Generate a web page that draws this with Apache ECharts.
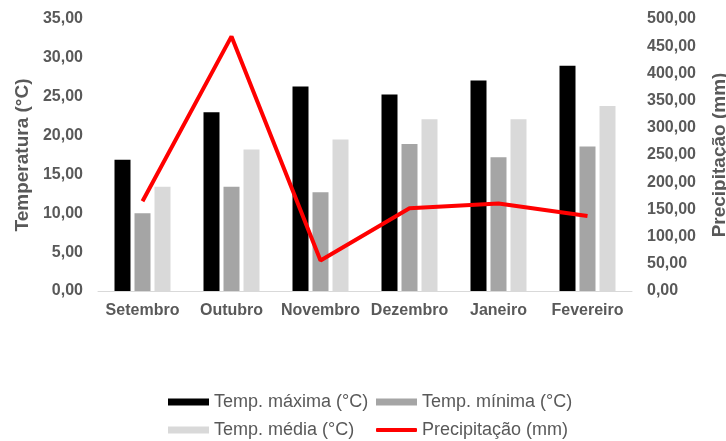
<!DOCTYPE html>
<html>
<head>
<meta charset="utf-8">
<script src="https://cdn.jsdelivr.net/npm/echarts@6/dist/echarts.min.js"></script>
<style>html,body{margin:0;padding:0;background:#fff}#c{width:726px;height:441px}</style>
</head>
<body>
<div id="c"></div>
<script>
const categories = ['Setembro', 'Outubro', 'Novembro', 'Dezembro', 'Janeiro', 'Fevereiro'];
const tempMax = [16.9, 23.0, 26.3, 25.3, 27.1, 29.0];
const tempMin = [10.0, 13.4, 12.7, 18.9, 17.2, 18.6];
const tempMed = [13.4, 18.2, 19.5, 22.1, 22.1, 23.8];
const precip = [165, 468, 56, 152, 161, 138];
const seriesNames = ['Temp. máxima (°C)', 'Temp. mínima (°C)', 'Temp. média (°C)', 'Precipitação (mm)'];

const fmt = v => v.toFixed(2).replace('.', ',');
const txt = '#595959';
const ff = 'Liberation Sans, Arial, sans-serif';
const chart = echarts.init(document.getElementById('c'));
const legendBase = {
  orient: 'horizontal', itemWidth: 41, itemHeight: 7, itemGap: 0, padding: 0,
  textStyle: { color: txt, fontSize: 18, fontFamily: ff, lineHeight: 20 },
  icon: 'rect', selectedMode: false
};
chart.setOption({
  animation: false,
  grid: { left: 98, right: 94, top: 19, bottom: 150, outerBoundsMode: 'none', containLabel: false },
  legend: [
    Object.assign({}, legendBase, { data: [seriesNames[0]], left: 168, top: 392 }),
    Object.assign({}, legendBase, { data: [seriesNames[1]], left: 376, top: 392 }),
    Object.assign({}, legendBase, { data: [seriesNames[2]], left: 168, top: 420 }),
    Object.assign({}, legendBase, { data: [{ name: seriesNames[3], icon: 'roundRect' }], left: 376, top: 420, itemHeight: 4 })
  ],
  xAxis: {
    type: 'category', data: categories,
    axisLine: { lineStyle: { color: '#d9d9d9', width: 1 } },
    axisTick: { show: false },
    axisLabel: { color: txt, fontSize: 16, fontWeight: 'bold', fontFamily: ff, margin: 12, interval: 0 }
  },
  yAxis: [
    {
      type: 'value', min: 0, max: 35, interval: 5,
      name: 'Temperatura (°C)', nameLocation: 'middle', nameGap: 64, nameRotate: 90,
      nameTextStyle: { color: txt, fontSize: 19, fontWeight: 'bold', fontFamily: ff },
      axisLine: { show: false }, axisTick: { show: false }, splitLine: { show: false },
      axisLabel: { color: txt, fontSize: 16, fontWeight: 'bold', fontFamily: ff, margin: 15, formatter: fmt }
    },
    {
      type: 'value', min: 0, max: 500, interval: 50, position: 'right',
      name: 'Precipitação (mm)', nameLocation: 'middle', nameGap: 78, nameRotate: 90,
      nameTextStyle: { color: txt, fontSize: 19, fontWeight: 'bold', fontFamily: ff },
      axisLine: { show: false }, axisTick: { show: false }, splitLine: { show: false },
      axisLabel: { color: txt, fontSize: 16, fontWeight: 'bold', fontFamily: ff, margin: 15, formatter: fmt }
    }
  ],
  series: [
    { name: seriesNames[0], type: 'bar', data: tempMax, barWidth: 16, barGap: '25%', itemStyle: { color: '#000000' } },
    { name: seriesNames[1], type: 'bar', data: tempMin, barWidth: 16, barGap: '25%', itemStyle: { color: '#a5a5a5' } },
    { name: seriesNames[2], type: 'bar', data: tempMed, barWidth: 16, barGap: '25%', itemStyle: { color: '#d9d9d9' } },
    { name: seriesNames[3], type: 'line', yAxisIndex: 1, data: precip, showSymbol: false, symbol: 'none',
      lineStyle: { color: '#ff0000', width: 4 }, itemStyle: { color: '#ff0000' }, z: 5 }
  ]
});
</script>
</body>
</html>
